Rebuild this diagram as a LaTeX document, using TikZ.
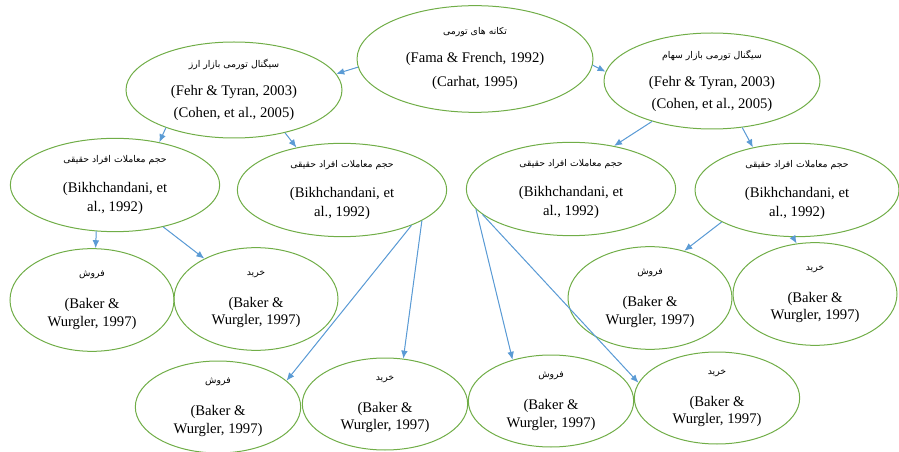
\documentclass[tikz,border=0pt]{standalone}
\usepackage{fontspec}
\setmainfont{Liberation Serif}
\newfontfamily\farsifont[Script=Arabic]{DejaVu Sans}
\TeXXeTstate=1
\usetikzlibrary{shapes.geometric, arrows, arrows.meta, shapes}
\definecolor{bubblegreen}{HTML}{70AD47}
\definecolor{arrowblue}{HTML}{5B9BD5}
\newcommand{\fatext}[1]{{\farsifont\fontsize{7}{9}\selectfont\beginR #1\endR}}
\tikzstyle{bubble} = [ellipse, draw=bubblegreen, line width=0.75pt, inner sep=0pt, align=center, font=\fontsize{11}{13}\selectfont]
\tikzstyle{topic} = [bubble, minimum width=177pt, minimum height=80pt]
\tikzstyle{signal} = [bubble, minimum width=162pt, minimum height=72pt]
\tikzstyle{volume} = [bubble, minimum width=157pt, minimum height=70pt]
\tikzstyle{trade} = [bubble, minimum width=123pt, minimum height=77pt]
\tikzstyle{tradelow} = [bubble, minimum width=124pt, minimum height=69pt]
\tikzstyle{arrow} = [-{Latex[length=6pt, width=5pt]}, draw=arrowblue, fill=arrowblue, line width=0.75pt]

\begin{document}
\begin{tikzpicture}[x=0.75pt, y=0.75pt, yscale=-1]
\useasboundingbox (0,0) rectangle (899,452);

\node at (475, 59) (shocks) [topic] {\fatext{تکانه های تورمی}\\[8pt] (Fama \& French, 1992)\\[5pt] (Carhat, 1995)};
\node at (234, 90) (fxsignal) [signal] {\fatext{سیگنال تورمی بازار ارز}\\[8pt] (Fehr \& Tyran, 2003)\\[3pt] (Cohen, et al., 2005)};
\node at (712, 81) (stocksignal) [signal] {\fatext{سیگنال تورمی بازار سهام}\\[8pt] (Fehr \& Tyran, 2003)\\[3pt] (Cohen, et al., 2005)};

\node at (115, 185) (volumeA) [volume] {\fatext{حجم معاملات افراد حقیقی}\\[10pt] (Bikhchandani, et\\[1pt] al., 1992)};
\node at (342, 190) (volumeB) [volume] {\fatext{حجم معاملات افراد حقیقی}\\[10pt] (Bikhchandani, et\\[1pt] al., 1992)};
\node at (571, 189) (volumeC) [volume] {\fatext{حجم معاملات افراد حقیقی}\\[10pt] (Bikhchandani, et\\[1pt] al., 1992)};
\node at (797, 190) (volumeD) [volume, minimum width=153pt] {\fatext{حجم معاملات افراد حقیقی}\\[10pt] (Bikhchandani, et\\[1pt] al., 1992)};

\node at (92, 300) (sellA) [trade] {\fatext{فروش}\\[11pt] (Baker \&\\ Wurgler, 1997)};
\node at (256, 299) (buyA) [trade] {\fatext{خرید}\\[11pt] (Baker \&\\ Wurgler, 1997)};
\node at (650, 298) (sellD) [trade] {\fatext{فروش}\\[11pt] (Baker \&\\ Wurgler, 1997)};
\node at (815, 294) (buyD) [trade] {\fatext{خرید}\\[11pt] (Baker \&\\ Wurgler, 1997)};

\node at (218, 407) (sellB) [tradelow] {\fatext{فروش}\\[11pt] (Baker \&\\ Wurgler, 1997)};
\node at (385, 404) (buyB) [tradelow] {\fatext{خرید}\\[11pt] (Baker \&\\ Wurgler, 1997)};
\node at (551, 401) (sellC) [tradelow] {\fatext{فروش}\\[11pt] (Baker \&\\ Wurgler, 1997)};
\node at (717, 398) (buyC) [tradelow] {\fatext{خرید}\\[11pt] (Baker \&\\ Wurgler, 1997)};

\draw [arrow] (shocks.184) -- (fxsignal.9);
\draw [arrow] (shocks.-3) -- (stocksignal.175);
\draw [arrow] (fxsignal.209) -- (volumeA.44);
\draw [arrow] (fxsignal.-40) -- (volumeB.137);
\draw [arrow] (stocksignal.214) -- (volumeC.45);
\draw [arrow] (stocksignal.-57) -- (volumeD.136);
\draw [arrow] (volumeA.248) -- (sellA.86);
\draw [arrow] (volumeA.-41) -- (buyA.142);
\draw [arrow] (volumeB.-27) -- (sellB.21);
\draw [arrow] (volumeB.-21) -- (buyB.68);
\draw [arrow] (volumeC.192) -- (sellC.133);
\draw [arrow] (volumeC.196) -- (buyC.169);
\draw [arrow] (volumeD.203) -- (sellD.54);
\draw [arrow] (volumeD.265) -- (buyD.110);

\end{tikzpicture}
\end{document}
